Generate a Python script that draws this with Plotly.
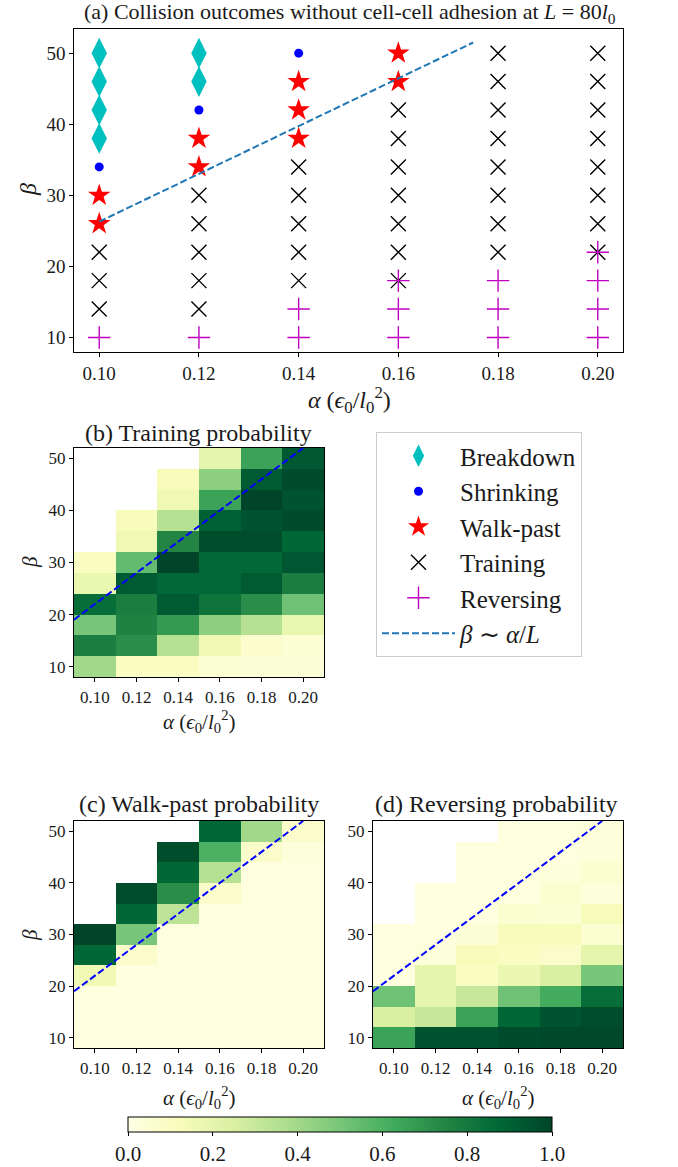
import plotly.graph_objects as go

# ---------------- data ----------------
alphas = [0.10, 0.12, 0.14, 0.16, 0.18, 0.20]
alpha_labels = ["0.10", "0.12", "0.14", "0.16", "0.18", "0.20"]
betas = [10, 14, 18, 22, 26, 30, 34, 38, 42, 46, 50]
beta_ticks = [10, 20, 30, 40, 50]

# panel (a) outcomes: beta values per alpha for each category
breakdown_pts = {0.10: [38, 42, 46, 50], 0.12: [46, 50]}
shrinking_pts = {0.10: [34], 0.12: [42], 0.14: [50]}
walkpast_pts = {0.10: [26, 30], 0.12: [34, 38], 0.14: [38, 42, 46], 0.16: [46, 50]}
training_pts = {
    0.10: [14, 18, 22],
    0.12: [14, 18, 22, 26, 30],
    0.14: [18, 22, 26, 30, 34],
    0.16: [18, 22, 26, 30, 34, 38, 42],
    0.18: [22, 26, 30, 34, 38, 42, 46, 50],
    0.20: [22, 26, 30, 34, 38, 42, 46, 50],
}
reversing_pts = {
    0.10: [10],
    0.12: [10],
    0.14: [10, 14],
    0.16: [10, 14, 18],
    0.18: [10, 14, 18],
    0.20: [10, 14, 18, 22],
}

scaling_line_a = [0.10, 0.175]
scaling_line_b = [26.3, 51.5]
heat_line_a = [0.09, 0.20]
heat_line_b = [19.0, 52.0]

N = None
# rows: beta = 10 ... 50 ; columns: alpha = 0.10 ... 0.20
training_prob = [
    [0.40, 0.10, 0.10, 0.05, 0.04, 0.04],
    [0.78, 0.72, 0.35, 0.15, 0.07, 0.05],
    [0.50, 0.76, 0.68, 0.45, 0.35, 0.18],
    [0.85, 0.78, 0.92, 0.82, 0.72, 0.52],
    [0.18, 0.92, 0.87, 0.87, 0.92, 0.78],
    [0.10, 0.55, 1.00, 0.87, 0.87, 0.94],
    [N,    0.16, 0.75, 0.97, 0.97, 0.88],
    [N,    0.12, 0.35, 0.90, 0.95, 0.98],
    [N,    N,    0.16, 0.65, 1.00, 0.95],
    [N,    N,    0.12, 0.45, 0.92, 0.98],
    [N,    N,    N,    0.20, 0.65, 0.93],
]
walkpast_prob = [
    [0.02, 0.02, 0.02, 0.02, 0.02, 0.02],
    [0.02, 0.02, 0.02, 0.02, 0.02, 0.02],
    [0.02, 0.02, 0.02, 0.02, 0.02, 0.02],
    [0.15, 0.02, 0.02, 0.02, 0.02, 0.02],
    [0.88, 0.08, 0.02, 0.02, 0.02, 0.02],
    [1.00, 0.50, 0.02, 0.02, 0.02, 0.02],
    [N,    0.88, 0.33, 0.02, 0.02, 0.02],
    [N,    0.97, 0.72, 0.08, 0.02, 0.02],
    [N,    N,    0.88, 0.35, 0.02, 0.02],
    [N,    N,    0.97, 0.60, 0.08, 0.03],
    [N,    N,    N,    0.88, 0.40, 0.08],
]
reversing_prob = [
    [0.65, 0.95, 0.95, 0.98, 0.99, 0.99],
    [0.25, 0.30, 0.65, 0.88, 0.95, 0.97],
    [0.52, 0.20, 0.30, 0.52, 0.62, 0.85],
    [0.02, 0.20, 0.10, 0.17, 0.25, 0.50],
    [0.02, 0.03, 0.12, 0.10, 0.08, 0.20],
    [0.02, 0.02, 0.04, 0.12, 0.12, 0.06],
    [N,    0.02, 0.02, 0.06, 0.05, 0.12],
    [N,    0.02, 0.02, 0.02, 0.06, 0.03],
    [N,    N,    0.02, 0.02, 0.03, 0.06],
    [N,    N,    0.02, 0.02, 0.02, 0.03],
    [N,    N,    N,    0.02, 0.02, 0.03],
]
cbar_ticks = [0, 0.2, 0.4, 0.6, 0.8, 1.0]
cbar_labels = ["0.0", "0.2", "0.4", "0.6", "0.8", "1.0"]


def flatten(pts):
    xs = [a for a, bs in pts.items() for _ in bs]
    ys = [b for bs in pts.values() for b in bs]
    return xs, ys


# ---------------- figure ----------------
W, H = 678, 1167
FONT = "Liberation Serif"
TXT = "#1a1a1a"
YLGN = [[0.0, "#ffffe5"], [0.125, "#f7fcb9"], [0.25, "#d9f0a3"], [0.375, "#addd8e"],
        [0.5, "#78c679"], [0.625, "#41ab5d"], [0.75, "#238443"], [0.875, "#006837"],
        [1.0, "#004529"]]


def fx(px):
    return px / W


def fy(py):
    return 1 - py / H


fig = go.Figure()

common = dict(xaxis="x", yaxis="y", mode="markers")
cats = [
    ("Breakdown", breakdown_pts, dict(symbol="diamond-tall", size=22, color="#00bfbf")),
    ("Shrinking", shrinking_pts, dict(symbol="circle", size=9, color="#0000ff")),
    ("Walk-past", walkpast_pts, dict(symbol="star", size=17, color="#ff0000")),
    ("Training", training_pts, dict(symbol="x-thin", size=15, color="black",
                                    line=dict(color="black", width=1.4))),
    ("Reversing", reversing_pts, dict(symbol="cross-thin", size=16, color="#bf00bf",
                                      line=dict(color="#bf00bf", width=1.4))),
]
for i, (name, pts, mk) in enumerate(cats):
    xs, ys = flatten(pts)
    fig.add_trace(go.Scatter(x=xs, y=ys, name=name, legendgroup=str(i), marker=mk, **common))
fig.add_trace(go.Scatter(x=scaling_line_a, y=scaling_line_b, name="<i>β</i> ∼ <i>α</i>/<i>L</i>",
                         legendgroup="6", mode="lines", xaxis="x", yaxis="y",
                         line=dict(color="#1f77b4", width=2, dash="7px,3px")))

panels = [("x2", "y2", training_prob), ("x3", "y3", walkpast_prob), ("x4", "y4", reversing_prob)]
for i, (xa, ya, z) in enumerate(panels):
    fig.add_trace(go.Heatmap(x=alphas, y=betas, z=z, xaxis=xa, yaxis=ya,
                             colorscale=YLGN, zmin=0, zmax=1, showscale=(i == 0),
                             colorbar=dict(orientation="h", x=fx(340), xanchor="center",
                                           y=fy(1117), yanchor="top", len=424,
                                           lenmode="pixels", thickness=15,
                                           xpad=0, ypad=0,
                                           outlinecolor="black", outlinewidth=1,
                                           tickvals=cbar_ticks, ticktext=cbar_labels,
                                           ticks="outside", ticklen=4, tickcolor="black",
                                           tickfont=dict(family=FONT, size=21, color=TXT)),
                             showlegend=False, hoverinfo="skip"))
    fig.add_trace(go.Scatter(x=heat_line_a, y=heat_line_b, xaxis=xa, yaxis=ya, mode="lines",
                             showlegend=False,
                             line=dict(color="#0000ff", width=2, dash="7px,3px")))


def ax(size):
    return dict(showline=True, linecolor="black", linewidth=1.2, mirror=True,
                ticks="outside", ticklen=4, tickcolor="black", showgrid=False,
                zeroline=False, automargin=False,
                tickfont=dict(family=FONT, size=size, color=TXT))


xt = dict(tickvals=alphas, ticktext=alpha_labels)
yt = dict(tickvals=beta_ticks)

fig.update_layout(
    width=W, height=H, margin=dict(l=0, r=0, t=0, b=0),
    paper_bgcolor="white", plot_bgcolor="white",
    font=dict(family=FONT, size=18, color=TXT),
    xaxis=dict(domain=[fx(74.3), fx(622.7)], range=[0.095, 0.205], anchor="y", **xt, **ax(19)),
    yaxis=dict(domain=[fy(351.7), fy(29)], range=[8.0, 53.4], anchor="x", **yt, **ax(19)),
    xaxis2=dict(domain=[fx(74), fx(324)], range=[0.09, 0.21], anchor="y2", **xt, **ax(17)),
    yaxis2=dict(domain=[fy(677), fy(448)], range=[8, 52], anchor="x2", **yt, **ax(17)),
    xaxis3=dict(domain=[fx(74), fx(324)], range=[0.09, 0.21], anchor="y3", **xt, **ax(17)),
    yaxis3=dict(domain=[fy(1048), fy(821)], range=[8, 52], anchor="x3", **yt, **ax(17)),
    xaxis4=dict(domain=[fx(373), fx(623)], range=[0.09, 0.21], anchor="y4", **xt, **ax(17)),
    yaxis4=dict(domain=[fy(1048), fy(821)], range=[8, 52], anchor="x4", **yt, **ax(17)),
    legend=dict(x=fx(376), y=fy(432), xanchor="left", yanchor="top",
                bordercolor="#cccccc", borderwidth=1, bgcolor="white",
                font=dict(family=FONT, size=25, color=TXT),
                tracegroupgap=0, itemwidth=73),
    showlegend=True,
)

xlab = "<i>α</i> (<i>ϵ</i><sub>0</sub>/<i>l</i><sub>0</sub><sup>2</sup>)"
blab = "<i>β</i>"
texts = [
    # text, x px, y px, size, angle
    ("(a) Collision outcomes without cell-cell adhesion at <i>L</i> = 80<i>l</i><sub>0</sub>", 350, 13, 22, 0),
    ("(b) Training probability", 199, 433, 24, 0),
    ("(c) Walk-past probability", 199, 804, 24, 0),
    ("(d) Reversing probability", 497, 804, 24, 0),
    (xlab, 349, 400, 24, 0),
    (xlab, 199, 721, 21, 0),
    (xlab, 199, 1097, 21, 0),
    (xlab, 498, 1097, 21, 0),
    (blab, 28, 190, 24, -90),
    (blab, 30, 562, 21, -90),
    (blab, 30, 935, 21, -90),
]
for text, x, y, s, ang in texts:
    fig.add_annotation(text=text, x=fx(x), y=fy(y), xref="paper", yref="paper",
                       showarrow=False, xanchor="center", yanchor="middle", textangle=ang,
                       font=dict(family=FONT, size=s, color=TXT))

fig.write_html("out.html", config={"displayModeBar": False},
               post_script="document.body.style.margin='0';")
